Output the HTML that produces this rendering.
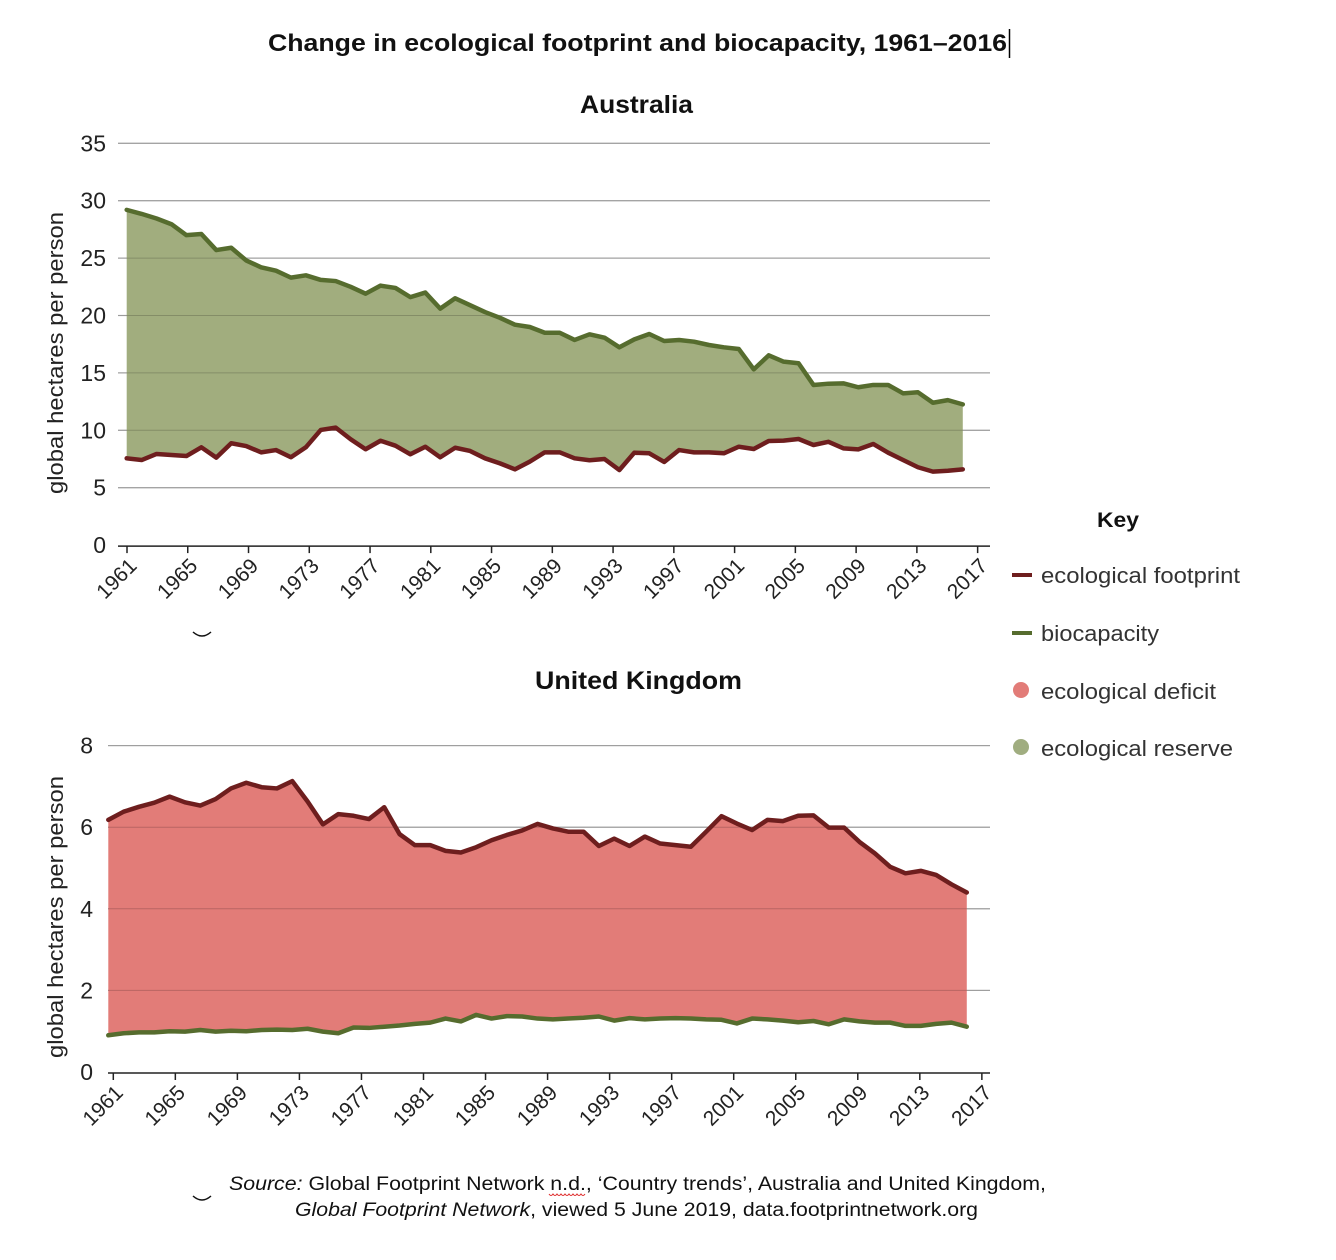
<!DOCTYPE html>
<html><head><meta charset="utf-8"><style>
html,body{margin:0;padding:0;background:#fff;}
svg{display:block;font-family:"Liberation Sans",Arial,sans-serif;}
</style></head><body>
<svg id="chart" width="1336" height="1260" viewBox="0 0 1336 1260" xmlns="http://www.w3.org/2000/svg">
<text x="268" y="51" font-size="24" font-weight="bold" fill="#111" textLength="739" lengthAdjust="spacingAndGlyphs">Change in ecological footprint and biocapacity, 1961–2016</text>
<line x1="1009.5" y1="29" x2="1009.5" y2="58" stroke="#000" stroke-width="1.5"/>
<text x="580" y="113" font-size="25" font-weight="bold" fill="#111" textLength="113" lengthAdjust="spacingAndGlyphs">Australia</text>
<text x="535" y="689" font-size="25" font-weight="bold" fill="#111" textLength="207" lengthAdjust="spacingAndGlyphs">United Kingdom</text>
<g id="au"></g>
<g id="uk"></g>
<g>
<text x="1097" y="527" font-size="21" font-weight="bold" fill="#111" textLength="42" lengthAdjust="spacingAndGlyphs">Key</text>
<g><line x1="1012" y1="575" x2="1032" y2="575" stroke="#6e1e1e" stroke-width="4"/><text x="1041" y="583" font-size="22" fill="#333" textLength="199" lengthAdjust="spacingAndGlyphs">ecological footprint</text></g>
<g><line x1="1012" y1="633" x2="1032" y2="633" stroke="#566c2e" stroke-width="4"/><text x="1041" y="641" font-size="22" fill="#333" textLength="118" lengthAdjust="spacingAndGlyphs">biocapacity</text></g>
<g><circle cx="1021" cy="690" r="8" fill="#e27c78"/><text x="1041" y="699" font-size="22" fill="#333" textLength="175" lengthAdjust="spacingAndGlyphs">ecological deficit</text></g>
<g><circle cx="1021" cy="747" r="8" fill="#a0ad80"/><text x="1041" y="756" font-size="22" fill="#333" textLength="192" lengthAdjust="spacingAndGlyphs">ecological reserve</text></g>
</g>
<path d="M193,632 Q202,640 211,632" fill="none" stroke="#111" stroke-width="1.5"/>
<path d="M193,1196 Q202,1204 211,1196" fill="none" stroke="#111" stroke-width="1.5"/>
<g font-size="19" fill="#111">
<text x="229" y="1190" textLength="817" lengthAdjust="spacingAndGlyphs"><tspan font-style="italic">Source:</tspan> Global Footprint Network n.d., ‘Country trends’, Australia and United Kingdom,</text>
<text x="295" y="1216" textLength="683" lengthAdjust="spacingAndGlyphs"><tspan font-style="italic">Global Footprint Network</tspan>, viewed 5 June 2019, data.footprintnetwork.org</text>
<path d="M549,1194 q2,3 4,0 q2,3 4,0 q2,3 4,0 q2,3 4,0 q2,3 4,0 q2,3 4,0 q2,3 4,0 q2,3 4,0 q2,3 4,0" fill="none" stroke="#d22" stroke-width="1"/>
</g>
</svg>
<script>
const tickYears = [1961,1965,1969,1973,1977,1981,1985,1989,1993,1997,2001,2005,2009,2013,2017];
const auYTicks = [0,5,10,15,20,25,30,35];
const ukYTicks = [0,2,4,6,8];
const auBiocapacity = [29.2,28.85,28.45,27.95,27.0,27.1,25.7,25.9,24.8,24.2,23.9,23.3,23.5,23.1,23.0,22.5,21.9,22.6,22.4,21.6,22.0,20.6,21.5,20.9,20.3,19.8,19.2,19.0,18.5,
18.5,17.87,18.36,18.07,17.23,17.92,18.39,17.78,17.87,17.72,17.43,17.23,17.08,15.31,16.53,15.98,15.84,13.95,14.06,14.09,13.75,13.95,13.95,13.22,13.31,12.40,12.63,12.26];
const auFootprint = [7.56,7.41,7.94,7.85,7.76,8.52,7.62,8.87,8.63,8.08,8.28,7.65,8.52,10.03,10.23,9.22,8.35,9.09,8.66,7.91,8.57,7.65,8.48,8.2,7.56,7.12,6.60,7.27,8.08,
8.08,7.56,7.39,7.50,6.54,8.05,8.0,7.24,8.28,8.08,8.08,8.0,8.57,8.37,9.07,9.1,9.24,8.72,9.0,8.43,8.34,8.81,8.05,7.41,6.78,6.40,6.48,6.60];
const ukFootprint = [6.18,6.38,6.50,6.60,6.75,6.61,6.53,6.69,6.95,7.09,6.98,6.95,7.13,6.63,6.07,6.32,6.28,6.20,6.49,5.83,5.56,5.56,5.42,5.38,5.51,5.68,5.81,5.92,6.08,
5.97,5.89,5.89,5.54,5.72,5.54,5.77,5.60,5.56,5.52,5.89,6.27,6.09,5.93,6.18,6.15,6.28,6.29,5.99,5.99,5.64,5.36,5.03,4.87,4.93,4.83,4.60,4.40];
const ukBiocapacity = [0.90,0.95,0.97,0.97,1.00,0.99,1.03,0.99,1.01,1.00,1.03,1.04,1.03,1.06,0.99,0.95,1.09,1.08,1.11,1.14,1.18,1.21,1.31,1.24,1.40,1.31,1.37,1.36,1.31,
1.29,1.31,1.33,1.36,1.26,1.32,1.29,1.31,1.32,1.31,1.29,1.28,1.19,1.31,1.29,1.26,1.22,1.25,1.17,1.29,1.24,1.21,1.21,1.13,1.13,1.18,1.21,1.11];

const NS = 'http://www.w3.org/2000/svg';
function mk(tag, attrs, parent){const e=document.createElementNS(NS,tag);for(const k in attrs)e.setAttribute(k,attrs[k]);parent.appendChild(e);return e;}

function panel(g, cfg){
  const y = v => cfg.y0 - v * cfg.yScale;
  const xi = i => cfg.x0 + i * cfg.xStep;
  const xt = yr => cfg.t0 + (yr - 1961) * cfg.tStep;
  cfg.yTicks.forEach(t=>{
    if(t>0){const gl=mk('line',{x1:cfg.gx1,x2:990,y1:y(t),y2:y(t),stroke:'#bdbdbd','stroke-width':1.3},g);
    
    }
    const tl=mk('text',{x:cfg.ylx,y:y(t)+8,'text-anchor':'end','font-size':23,fill:'#222'},g);
    tl.textContent=t;
    
    
  });
  let pts=cfg.top.map((v,i)=>xi(i)+','+y(v));
  for(let i=cfg.bot.length-1;i>=0;i--)pts.push(xi(i)+','+y(cfg.bot[i]));
  const area=mk('polygon',{points:pts.join(' '),fill:cfg.fill},g);
  
  
  cfg.yTicks.forEach(t=>{ if(t>0){const o=mk('line',{x1:cfg.gx1,x2:990,y1:y(t),y2:y(t),stroke:'rgba(0,0,0,0.18)','stroke-width':1},g);
    
    }});
  [[cfg.bot,cfg.botColor,cfg.botName],[cfg.top,cfg.topColor,cfg.topName]].forEach(([arr,col,nm])=>{
    const l=mk('polyline',{points:arr.map((v,i)=>xi(i)+','+y(v)).join(' '),fill:'none',stroke:col,'stroke-width':4.5,'stroke-linejoin':'round','stroke-linecap':'round'},g);
    
    
  });
  const ax=mk('line',{x1:cfg.gx1,x2:990,y1:cfg.y0+1,y2:cfg.y0+1,stroke:'#222','stroke-width':1.5},g);
  
  
  tickYears.forEach(yr=>{
    const tk=mk('line',{x1:xt(yr),x2:xt(yr),y1:cfg.y0+1,y2:cfg.y0+8,stroke:'#222','stroke-width':1.5},g);
    
    
    const lb=mk('text',{x:xt(yr)+11,y:cfg.y0+22,'text-anchor':'end','font-size':21,fill:'#222',transform:`rotate(-45 ${xt(yr)+11} ${cfg.y0+22})`},g);
    lb.textContent=yr;
    
    
  });
  const yt=mk('text',{x:0,y:0,'text-anchor':'middle','font-size':22,fill:'#222',textLength:282,lengthAdjust:'spacingAndGlyphs',transform:`translate(63 ${cfg.ytitleY}) rotate(-90)`},g);
  yt.textContent='global hectares per person';
  
  
}

panel(document.getElementById('au'),{y0:545.1,yScale:11.48,x0:126.7,xStep:14.93,t0:127,tStep:15.19,gx1:118,ylx:106,
  yTicks:auYTicks,top:auBiocapacity,bot:auFootprint,fill:'#a1ad7e',topColor:'#566c2e',botColor:'#6e1e1e',
  topName:'biocapacity-line-australia',botName:'footprint-line-australia',areaName:'reserve-area-australia',ytitleY:353});
panel(document.getElementById('uk'),{y0:1072,yScale:40.8,x0:108.3,xStep:15.33,t0:113.3,tStep:15.51,gx1:108,ylx:93,
  yTicks:ukYTicks,top:ukFootprint,bot:ukBiocapacity,fill:'#e27c78',topColor:'#6e1e1e',botColor:'#566c2e',
  topName:'footprint-line-uk',botName:'biocapacity-line-uk',areaName:'deficit-area-uk',ytitleY:917});
</script>
</body></html>
